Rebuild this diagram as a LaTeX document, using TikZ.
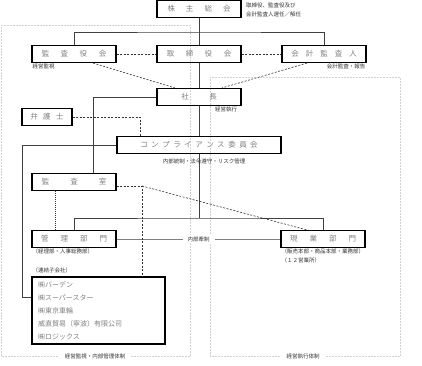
\documentclass[tikz,border=0pt]{standalone}
\usepackage{fontspec}
\setmainfont{Noto Sans CJK JP}
\usepackage{tikz}
\usetikzlibrary{positioning,calc}

\newcommand{\gp}[1]{\hspace{#1pt}}

\begin{document}
\begin{tikzpicture}[x=1pt, y=-1pt,
    org/.style = {draw, line width=1.1pt, minimum width=84pt, minimum height=17pt, inner sep=0pt, text=gray, font=\fontsize{7.5}{9}\selectfont},
    note/.style = {inner sep=1pt, font=\fontsize{5.5}{9}\selectfont, text=black!80},
    link/.style = {draw=black!75, line width=0.8pt},
    dashline/.style = {draw=black!80, dashed, dash pattern=on 2pt off 1.5pt, line width=0.6pt},
    frame/.style = {draw=gray!35, densely dotted, line width=0.5pt}]

    \useasboundingbox (0,0) rectangle (422,365);

    % frames
    \draw[frame] (1,25) rectangle (190,356);
    \draw[frame] (210,77) rectangle (400,356);
    \node[note, fill=white, inner xsep=6pt] (lframe) at (95,356) {経営監視・内部管理体制};
    \node[note, fill=white, inner xsep=6pt] (rframe) at (303,356) {経営執行体制};

    % boxes
    \node[org] (soukai) at (199,9) {株\gp{11}主\gp{11}総\gp{11}会};
    \node[org] (kansayaku) at (74,54) {監\gp{11.5}査\gp{11.5}役\gp{11.5}会};
    \node[org] (torishimari) at (199,54) {取\gp{11.5}締\gp{11.5}役\gp{11.5}会};
    \node[org] (kaikei) at (324,54) {会\gp{7}計\gp{7}監\gp{7}査\gp{7}人};
    \node[org] (shacho) at (199,97) {社\gp{20.5}長};
    \node[org, minimum width=50pt] (bengoshi) at (47,117) {弁\gp{5.5}護\gp{5.5}士};
    \node[org, minimum width=164pt] (comp) at (199,145) {コ\gp{3.5}ン\gp{3.5}プ\gp{3.5}ラ\gp{3.5}イ\gp{3.5}ア\gp{3.5}ン\gp{3.5}ス\gp{3.5}委\gp{3.5}員\gp{3.5}会};
    \node[org] (kansashitsu) at (74,182) {監\gp{21}査\gp{21}室};
    \node[org] (kanri) at (74,239) {管\gp{12}理\gp{12}部\gp{12}門};
    \node[org] (genba) at (323,239) {現\gp{12}業\gp{12}部\gp{12}門};
    \node[org, minimum width=133pt, minimum height=67pt, align=left, text width=121pt, font=\fontsize{7}{13}\selectfont] (kogaisha) at (98.5,310.5)
        {㈱バーデン\\㈱スーパースター\\㈱東京車輪\\威直貿易（寧波）有限公司\\㈱ロジックス};

    % notes
    \node[note, anchor=north west, align=left] (sennin) at (245,2) {取締役、監査役及び\\会計監査人選任／解任};
    \node[note, anchor=north west] (kanshi) at (kansayaku.south west) {経営監視};
    \node[note, anchor=north east] (houkoku) at (kaikei.south east) {会計監査・報告};
    \node[note, anchor=north west] (shikko) at ([xshift=15pt]shacho.south) {経営執行};
    \node[note, below=4pt of comp, xshift=5pt] (tousei) {内部統制・法令遵守・リスク管理};
    \node[note, anchor=north west] (kanribu) at (kanri.south west) {（経理部・人事総務部）};
    \node[note, anchor=south west] (renketsu) at ([yshift=2pt]kogaisha.north west) {（連結子会社）};
    \node[note, anchor=north west, align=left] (genbabu) at (genba.south west) {（販売本部・商品本部・業務部）\\（１２営業所）};

    % solid lines
    \coordinate (top) at (199,32);
    \coordinate (bus) at (199,218);
    \coordinate (rail) at (22,297);
    \draw[link] (soukai) -- (torishimari);
    \draw[link] (kansayaku.north) |- (top) -| (kaikei.north);
    \draw[link] (torishimari) -- (shacho);
    \draw[link] (shacho) -- (comp);
    \draw[link] (comp.south) -- (bus);
    \draw[link] (kanri.north) |- (bus) -| (genba.north);
    \draw[link] (shacho.west) -| ([xshift=19pt]kansashitsu.north);
    \draw[link] (comp.west) -| (rail) -- (rail -| kogaisha.west);
    \draw[draw=gray, line width=0.5pt] (kanri.east) -- (genba.west) node[note, midway, fill=white, inner xsep=5pt] (kensei) {内部牽制};

    % dashed lines
    \coordinate (bend) at (140,117);
    \coordinate (audit) at (142,186);
    \draw[dashline] (kansayaku) -- (torishimari);
    \draw[dashline] (torishimari) -- (kaikei);
    \draw[dashline] ([xshift=19pt]kansayaku.south) -- ([xshift=-24pt]shacho.north);
    \draw[dashline] ([xshift=-17pt]kaikei.south) -- ([xshift=23pt]shacho.north);
    \draw[dashline] (bengoshi.east) -- (bend) -- (bend |- comp.north);
    \draw[dashline] (kansashitsu.east |- audit) -- (audit) -- (audit |- kogaisha.north);
    \draw[dashline] (audit) -- ([xshift=-16pt]genba.north);
    \draw[dashline, dash pattern=on 1pt off 1pt] ([xshift=-19pt]kansashitsu.south) -- ([xshift=-19pt]kanri.north);
\end{tikzpicture}
\end{document}
